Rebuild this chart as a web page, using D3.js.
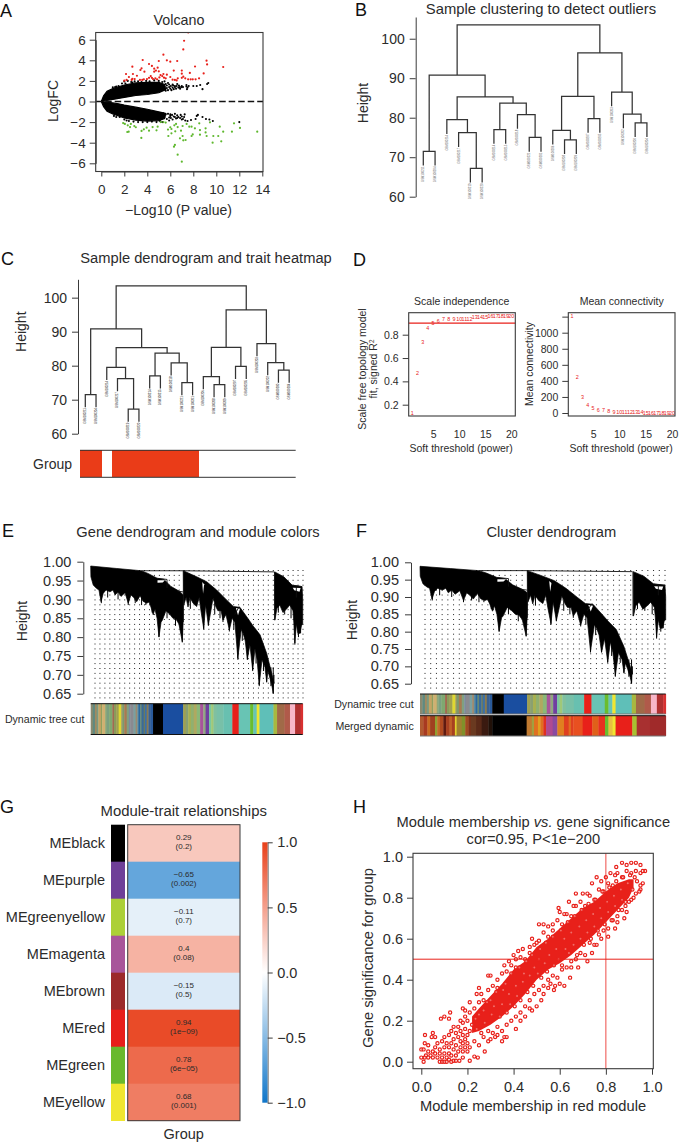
<!DOCTYPE html>
<html><head><meta charset="utf-8">
<style>html,body{margin:0;background:#fff}svg{display:block}text{font-family:"Liberation Sans",Arial,sans-serif;fill:#2b2b2b}</style>
<script src="https://cdn.jsdelivr.net/npm/d3@7/dist/d3.min.js"></script></head><body>
<script>
// ---------- A: volcano ----------
const volcanoRed=[[7.2,5.9],[7.13,5.06],[5.4,4.55],[3.6,4.03],[5,3.93],[5.7,4],[6,3.87],[6.6,3.93],[9.15,3.96],[9.2,3.6],[10.6,3.35],[8.15,3.4],[4.15,3.64],[2.7,3.38],[3.5,3.22],[3.4,3.06],[4.4,3.45],[4.6,3.19],[4.9,3.28],[4.75,3],[4.6,2.9],[5,2.93],[7,3],[6.3,3],[2.15,2.67],[2.75,2.67],[3.1,2.5],[3.75,2.9],[2.4,2.38],[7.7,2.77],[8.9,2.73],[7,2.7],[5.4,2.67],[5.7,2.6],[2,2.02],[2.2,2.09],[2.64,2.09],[2.7,2.2],[2.9,2.18],[3.36,2.09],[3.56,2.09],[3.7,2.15],[3.97,2.18],[4.15,2.3],[4.3,2.47],[4.4,2.3],[4.5,2.18],[4.7,2.25],[4.85,2.15],[5.05,2.34],[5.15,2.57],[5.3,2.47],[5.45,2.31],[5.6,2.25],[6,2.38],[6.2,2.12],[6.4,2.09],[6.65,2.25],[7,2.3],[7.13,2.41],[7.3,2.25],[7.55,2.15],[7.77,2.15],[7.95,2.15],[8.2,2.15],[8.5,2.25],[6.55,2.05],[7.56,6.7]];
const volcanoGreen=[[1.9,-2.09],[2.05,-2.18],[2.3,-2.31],[2.5,-2.48],[2.26,-2.96],[2.38,-2.93],[2.87,-2.38],[3,-2.5],[2.57,-2.18],[3.5,-2.86],[3.7,-2.7],[3.48,-3.54],[3.94,-2.54],[4.15,-2.83],[4.46,-2.48],[4.8,-2.8],[4.9,-2.44],[5.16,-2],[5.4,-2],[5.6,-2.05],[5.8,-2.73],[6.1,-2.67],[6,-2.5],[6.35,-2.31],[6.5,-2.18],[6.64,-2.48],[5.83,-3.35],[6.1,-3.09],[6.43,-2.9],[6.84,-3.58],[7.07,-3.35],[7.13,-3.77],[7.33,-3.74],[6.4,-4.22],[6.32,-4.39],[6.64,-5.16],[7,-5.84],[6.93,-2.83],[7.07,-2.38],[7.42,-2.18],[7.65,-2.44],[7.85,-3.35],[7.95,-3.2],[8.14,-2.6],[7.85,-2.44],[8.58,-2.77],[8.58,-3.22],[9.07,-2.6],[9.07,-3],[9.16,-3.35],[8.52,-2.12],[9.45,-2.02],[9.74,-3.35],[9.68,-4],[10.17,-3.35],[10.3,-2.44],[10.43,-3.87],[10.6,-2.93],[11.54,-2.12],[11.36,-2.93],[12.06,-2.57],[13.56,-2.93]];
const volcanoBlack=[[7.4,1.6],[7.5,1.35],[7.6,1.5],[8,1.5],[8.3,1.5],[8.6,1.6],[8.8,1.2],[9.2,1.7],[9.3,1.8],[2,1.95],[2.3,2],[2.6,1.9],[6.4,1.5],[6.6,1.7],[6.8,1.4],[7,1.5],[6.2,1.65],[5.8,1.8],[5.5,1.95],[1.2,1.4],[1.5,1.5],[1.8,1.75],[7.1,-1.7],[7.3,-1.85],[7.5,-1.9],[7.8,-1.8],[8.2,-1.7],[8.3,-1.4],[8.4,-1.3],[8.8,-1.5],[9.1,-1.7],[9.4,-1.75],[9.7,-1.9],[12,-2],[6,-1.4],[6.4,-1.5],[6.6,-1.6],[6.9,-1.3],[7,-1.45],[1.6,-1.5],[2.4,-1.9],[3.2,-2],[4.4,-1.95],[5.3,-2],[5.9,-1.85],[6.2,-1.75],
[5.4,1.2],[5.5,1.45],[5.6,1.05],[5.6,1.7],[5.7,1.3],[5.7,1.55],[5.8,1.1],[5.9,1.4],[5.9,1.65],[6,1.25],[6.05,1.5],[6.1,1.1],[6.2,1.35],[6.25,1.55],[6.3,1.2],[6.4,1.4],[6.5,1.25],[6.55,1.5],[6.7,1.35],[6.75,1.55],[6.85,1.25],[6.95,1.4],[7.1,1.4],[7.4,1.45],[7.45,1.2],[1,1.38],[1.3,1.45],[2.1,1.75],[2.7,1.85],[2.9,1.95],[3.2,1.95],[3.5,1.9],[3.9,2],[4.2,1.95],[4.6,2.05],[5,2],[5.3,1.9],
[5.4,-1.15],[5.5,-1.5],[5.6,-1.25],[5.7,-1.7],[5.8,-1.2],[5.9,-1.55],[6,-1.25],[6.05,-1.6],[6.15,-1.3],[6.3,-1.45],[6.4,-1.2],[6.5,-1.65],[6.6,-1.35],[6.7,-1.5],[6.85,-1.6],[7,-1.75],[7.2,-1.5],[7.25,-1.25],[1.1,-1.4],[1.3,-1.5],[2,-1.75],[2.2,-1.85],[2.8,-1.95],[3.6,-2],[4,-2],[4.8,-2],[5.1,-1.9]];
const volcanoUpper=[[0,0],[.2,.55],[.5,1],[1,1.25],[2,1.6],[3,1.8],[4,1.85],[5,1.85],[5.5,1.65],[5.6,1.15],[5,.85],[4,.68],[3,.58],[2,.4],[1.5,.3],[1,.2],[.6,.12],[0,0]];
const volcanoLower=[[0,0],[.2,-.5],[.5,-.95],[1,-1.2],[2,-1.6],[3,-1.8],[4,-1.9],[5,-1.85],[5.5,-1.65],[5.6,-1.15],[5,-1],[4,-.75],[3,-.55],[2,-.35],[1.5,-.22],[1,-.14],[.6,-.08],[0,0]];
const volcanoXTicks=[0,2,4,6,8,10,12,14], volcanoYTicks=[-6,-4,-2,0,2,4,6];

// ---------- B, C: sample tree (R hclust style merges) ----------
const sampleMerges=[[-1,-2,71.5],[-5,-6,67.2],[-4,2,76.2],[-3,3,79.5],[-7,-8,77],[-10,-11,75],[-9,6,80.8],[5,7,83.7],[4,8,85.3],[1,9,90.8],[-13,-14,74.4],[-12,11,76.8],[-15,-16,79.8],[12,13,85.4],[-19,-20,78.7],[-18,15,80.9],[-17,16,86.5],[14,17,96.4],[10,18,103.5]];
const sampleIds=["GSM100211","GSM100204","GSM100214","GSM100217","GSM100219","GSM100220","GSM100214","GSM100215","GSM100218","GSM100221","GSM100201","GSM100206","GSM100208","GSM100209","GSM100207","GSM100205","GSM100203","GSM100202","GSM100200","GSM100204"];
const heightTicks=[60,70,80,90,100];
const groupFlags=[1,1,0,1,1,1,1,1,1,1,1,0,0,0,0,0,0,0,0,0];

// ---------- D: soft threshold ----------
const powers=d3.range(1,21);
const scaleFit=[.13,.47,.74,.857,.897,.917,.93,.93,.937,.932,.932,.937,.946,.95,.953,.957,.96,.96,.96,.96];
const meanK=[1205,447,200,100,62,37,29,20,12,8,6,5,4,4,3,3,2,2,2,1];
const fitTicks=[.2,.4,.6,.8], kTicks=[0,200,400,600,800,1000,1200], powerTicks=[5,10,15,20];

// ---------- E, F: gene dendrogram silhouettes [gene position %, height] ----------
const topA=[[0,.9885],[12.3,.982],[23.9,.976],[27,.969],[31.4,.956],[34.6,.953],[37.7,.935],[41.7,.922],[43.7,.912]];
const bottomA=[[.1,.96],[1.2,.938],[2.8,.929],[3.9,.925],[4.9,.894],[5.9,.916],[7.2,.925],[9.1,.92],[10.5,.925],[11.5,.912],[12.9,.92],[14.3,.908],[16.2,.918],[17.7,.89],[19,.912],[20.3,.905],[21.7,.894],[23.3,.91],[24.7,.895],[26.4,.89],[27.5,.893],[28.4,.88],[29.5,.859],[30.3,.875],[31.3,.85],[32.2,.801],[33.2,.84],[33.8,.845],[35.5,.87],[37.4,.86],[38.8,.85],[40.2,.848],[41.6,.835],[43.2,.788],[43.6,.84]];
const topB=[[43.7,.976],[50,.96],[54.7,.947],[59.4,.925],[64.2,.898],[67.3,.881],[70.4,.879],[73.6,.854],[76.7,.829],[79.9,.806],[83,.757],[85.4,.704],[86.5,.677]];
const bottomB=[[43.9,.885],[45,.905],[45.9,.88],[46.8,.905],[48.3,.89],[50,.881],[51.2,.905],[52,.87],[53.3,.823],[54.2,.885],[55.5,.832],[56.7,.87],[57.7,.903],[59.1,.88],[60,.87],[61.5,.87],[62.4,.845],[63.8,.86],[65.4,.819],[66.7,.85],[68,.84],[69.4,.744],[71,.82],[71.9,.81],[72.9,.79],[73.9,.741],[75.1,.78],[76.4,.713],[77.5,.77],[78.5,.74],[79.5,.673],[80.8,.74],[82.2,.72],[83,.682],[83.6,.71],[84.6,.69],[85.5,.67],[86.1,.651],[86.4,.7]];
const topC=[[86.8,.973],[91.1,.96],[95,.938],[99.7,.934],[100,.9]];
const bottomC=[[86.9,.845],[87.8,.875],[89.2,.885],[90.7,.865],[92.5,.875],[93.9,.885],[95.4,.87],[95.8,.84],[96.3,.784],[97,.835],[97.7,.81],[98.7,.81],[99.4,.83],[100,.835]];
const topLinks=[[[23.9,.976],[43.7,.976]],[[43.7,.976],[86.5,.973]],[[43.7,.976],[43.7,.84]],[[86.7,.973],[86.7,.845]],[[31.4,.956],[36,.953]],[[36,.953],[36,.93]],[[41,.922],[43.5,.92]],[[70,.881],[68,.86]],[[95,.937],[99.7,.934]],[[97,.935],[97,.905]]];
const whiteSlivers=[[[31.5,.951],[35,.951],[34,.945],[31.5,.944]],[[52.6,.946],[53.5,.94],[53,.915]],[[68.5,.877],[70.4,.875],[69.5,.858]],[[95.3,.931],[99,.93],[98.5,.92],[96,.924]]];
const geneSpikes=[[5,.92,.89],[17.7,.92,.885],[26,.9,.885],[32.2,.86,.8],[43.2,.85,.786],[53.3,.9,.82],[55.5,.9,.83],[62.4,.88,.84],[65.4,.87,.815],[69.4,.82,.74],[73.9,.8,.74],[76.4,.79,.71],[79.5,.76,.67],[83,.74,.68],[86.1,.72,.65],[96.3,.88,.78],[8,.93,.905],[12.9,.93,.9],[21,.92,.89],[24,.92,.885],[29,.9,.865],[36,.89,.85],[40,.87,.83],[47,.92,.875],[58.5,.89,.86],[61,.88,.85],[67.5,.86,.82],[71.5,.83,.79],[78,.78,.73],[81.5,.75,.71],[85,.72,.67],[88.5,.9,.865],[91.5,.89,.86],[94.5,.89,.85],[98,.85,.8],[99,.85,.81]];
const geneHeightTicks=[.65,.7,.75,.8,.85,.9,.95,1];
const guideColumns=d3.range(0,43);
// colour runs: [end of run, gene position %, colour]
const dynamicRuns=[[1,"#8a8a70"],[2,"#5f8a80"],[2.8,"#a08a60"],[3.6,"#7a9a80"],[4.8,"#c4a464"],[5.4,"#90a060"],[6.8,"#d0b070"],[7.5,"#90a878"],[8.7,"#7aa080"],[10.2,"#7fa870"],[11,"#a06a50"],[12,"#8a9a5a"],[13.2,"#a0a050"],[14.4,"#e0d830"],[15,"#9a9a60"],[15.8,"#7a9a70"],[17,"#a87a50"],[18,"#80a080"],[18.6,"#7a8aa0"],[20.2,"#8a8a90"],[21.2,"#7aa0a0"],[22,"#9a8a70"],[22.6,"#5a8aa0"],[23.4,"#2a6aa0"],[24,"#6a8a70"],[25,"#3a6a9a"],[25.6,"#6a7a60"],[26.4,"#3a70a8"],[27.2,"#8a7a50"],[28.2,"#3a6090"],[29.4,"#2a5a9a"],[34.1,"#000000"],[43.6,"#1a4ea0"],[44.8,"#a0a050"],[46,"#8aa070"],[47.2,"#a8b050"],[48.6,"#90b070"],[50,"#b0a860"],[51.6,"#8ab878"],[53.1,"#a8559a"],[54.2,"#90a880"],[55.8,"#7040a0"],[56.8,"#7ac8a0"],[57.9,"#a0c878"],[59.4,"#80c0a0"],[62.6,"#78c0a8"],[66.8,"#68c0b0"],[69.8,"#e8201a"],[75.2,"#68c4b4"],[76.7,"#6abd2e"],[78.3,"#68c4b4"],[79.6,"#f0e630"],[86.2,"#5fbfb8"],[87.9,"#a8b840"],[91.4,"#a06a48"],[94,"#b05a4a"],[96.4,"#f7b6c8"],[99,"#b03030"],[100,"#d83030"]];
const mergedRuns=[[1.4,"#b05a30"],[3,"#a83a20"],[4.1,"#c86a20"],[6.1,"#a04020"],[7,"#90a030"],[8.1,"#c06a28"],[9.5,"#b04a20"],[10.6,"#601a10"],[12,"#a84020"],[13,"#c06028"],[14.2,"#a84020"],[14.9,"#e0d030"],[17,"#a08030"],[18.4,"#80902a"],[19.7,"#a04a20"],[20.6,"#803018"],[22.8,"#6a3a20"],[25.1,"#5a2a18"],[27.8,"#3a1a10"],[29.4,"#201008"],[43.4,"#000000"],[45.5,"#c07a30"],[46.4,"#a0a040"],[48,"#e07020"],[49,"#e0a020"],[50.2,"#e07020"],[51.3,"#e03020"],[54,"#b04a90"],[55.9,"#8a4aa0"],[58.6,"#e08020"],[60.5,"#e04020"],[61.4,"#e07020"],[62.4,"#e04020"],[66.2,"#e85020"],[70.1,"#e8201a"],[72.6,"#e0601a"],[75.3,"#e83020"],[76.7,"#6abd2e"],[78.4,"#e8c040"],[79.6,"#f0e630"],[86.4,"#e8201a"],[88.2,"#a8c030"],[93.6,"#a83030"],[100,"#a02a2a"]];

// ---------- G: module-trait ----------
const modules=["MEblack","MEpurple","MEgreenyellow","MEmagenta","MEbrown","MEred","MEgreen","MEyellow"];
const moduleColors=["#000000","#6f3f98","#acd037","#a8559a","#9c2a2a","#e71f1a","#69b92e","#f0e630"];
const moduleCor=[.29,-.65,-.11,.4,-.15,.94,.78,.68];
const corLabels=["0.29","\u22120.65","\u22120.11","0.4","\u22120.15","0.94","0.78","0.68"];
const pLabels=["(0.2)","(0.002)","(0.7)","(0.08)","(0.5)","(1e\u221209)","(6e\u221205)","(0.001)"];
const legendTicks=[-1,-.5,0,.5,1];

// ---------- H: membership scatter ----------
const mmUpper=[[.22,.22],[.25,.26],[.3,.32],[.35,.38],[.4,.45],[.45,.49],[.5,.56],[.55,.6],[.6,.65],[.65,.7],[.7,.75],[.75,.78],[.8,.83],[.85,.87],[.9,.89],[.92,.89]];
const mmLower=[[.22,.14],[.25,.15],[.3,.18],[.35,.22],[.4,.27],[.45,.33],[.5,.4],[.55,.45],[.6,.48],[.65,.52],[.7,.57],[.75,.62],[.8,.68],[.85,.74],[.9,.8],[.92,.85]];
const mmEdge=[[.016,.13],[0,.06],[.01,.06],[.015,.09],[.03,.08],[0,.02],[.01,0],[.015,.02],[.03,.02],[.05,.14],[.045,.12],[.06,.12],[.085,.21],[.1,.22],[.12,.21],[.125,.24],[.14,.17],[.17,.2],[.18,.26],[.19,.25],[.21,.29],[.24,.33],[.25,.36],[.26,.33],[.29,.42],[.3,.42],[.33,.4],[.36,.47],[.38,.49],[.4,.52],[.41,.5],[.42,.54],[.44,.55],[.47,.56],[.48,.6],[.5,.58],[.51,.67],[.53,.67],[.55,.66],[.57,.67],[.595,.75],[.6,.73],[.62,.72],[.64,.78],[.66,.76],[.67,.82],[.7,.82],[.72,.82],[.74,.87],[.76,.9],[.78,.88],[.8,.9],[.82,.92],[.84,.91],[.845,.95],[.87,.97],[.89,.96],[.91,.97],[.93,.97],[.95,.96],[.97,.93],[.96,.93],[.08,0],[.09,0],[.1,0],[.11,0],[.12,.01],[.13,0],[.14,.005],[.15,.005],[.165,.005],[.18,.02],[.21,.005],[.23,.025],[.245,.02],[.275,.05],[.3,.11],[.32,.12],[.35,.1],[.36,.12],[.37,.12],[.41,.16],[.43,.2],[.45,.22],[.47,.26],[.48,.25],[.5,.27],[.52,.3],[.53,.33],[.55,.36],[.56,.38],[.575,.35],[.58,.37],[.6,.38],[.62,.37],[.645,.41],[.65,.46],[.68,.46],[.72,.49],[.74,.53],[.76,.57],[.78,.6],[.81,.61],[.84,.65],[.85,.68],[.88,.7],[.885,.76],[.9,.78],[.92,.8],[.945,.83],[.96,.87],[.95,.86]];
const mmFringe=[[.23,.26],[.25,.29],[.27,.3],[.29,.35],[.31,.37],[.33,.36],[.35,.43],[.37,.44],[.39,.47],[.41,.46],[.43,.51],[.45,.5],[.47,.53],[.49,.57],[.51,.59],[.53,.63],[.55,.61],[.57,.64],[.59,.69],[.61,.67],[.63,.72],[.65,.71],[.67,.76],[.69,.78],[.71,.76],[.73,.81],[.75,.79],[.77,.84],[.79,.83],[.81,.87],[.83,.86],[.85,.92],[.87,.9],[.89,.93],[.91,.92],[.93,.93],[.95,.92],[.23,.1],[.25,.08],[.27,.12],[.29,.1],[.31,.14],[.33,.13],[.35,.15],[.37,.18],[.39,.2],[.41,.22],[.43,.24],[.45,.27],[.47,.3],[.49,.33],[.51,.35],[.53,.37],[.55,.4],[.57,.42],[.59,.41],[.61,.45],[.63,.46],[.65,.49],[.67,.5],[.69,.53],[.71,.52],[.73,.58],[.75,.57],[.77,.62],[.79,.64],[.81,.65],[.83,.69],[.85,.71],[.87,.74],[.89,.73],[.91,.79],[.93,.82],[.95,.84]];
const mmLow=[[.02,.03],[.03,.05],[.04,.03],[.05,.05],[.05,.02],[.06,.04],[.06,.07],[.07,.02],[.07,.09],[.08,.04],[.08,.06],[.09,.02],[.09,.1],[.1,.04],[.1,.07],[.1,.12],[.11,.02],[.11,.09],[.12,.04],[.12,.07],[.12,.13],[.13,.03],[.13,.09],[.13,.15],[.14,.06],[.14,.11],[.15,.03],[.15,.08],[.15,.14],[.16,.05],[.16,.12],[.16,.17],[.17,.07],[.17,.1],[.17,.15],[.18,.05],[.18,.09],[.18,.13],[.18,.19],[.19,.07],[.19,.11],[.19,.16],[.19,.22],[.2,.05],[.2,.09],[.2,.13],[.2,.2],[.21,.07],[.21,.15],[.21,.24]];
const mmBody=[[.22,.18],[.235,.21],[.24,.16],[.25,.23],[.26,.14],[.27,.25],[.275,.19],[.285,.29],[.29,.15],[.3,.3],[.305,.23],[.315,.27],[.325,.34],[.33,.17],[.34,.22],[.35,.28],[.355,.35],[.365,.38],[.37,.24],[.38,.33],[.385,.28],[.39,.43],[.405,.27],[.41,.37],[.415,.32],[.425,.46],[.43,.3],[.44,.39],[.445,.43],[.455,.49],[.46,.34],[.47,.42],[.48,.52],[.485,.37],[.49,.46],[.505,.43],[.51,.5],[.515,.55],[.52,.41],[.535,.48],[.54,.58],[.545,.44],[.555,.52],[.57,.61],[.575,.47],[.585,.55],[.595,.5],[.605,.64],[.61,.47],[.62,.6],[.625,.55],[.635,.68],[.64,.53],[.65,.63],[.66,.57],[.665,.71],[.675,.52],[.685,.66],[.69,.6],[.695,.74],[.705,.57],[.715,.69],[.72,.63],[.725,.77],[.735,.6],[.745,.72],[.75,.66],[.755,.79],[.765,.64],[.775,.75],[.78,.7],[.785,.83],[.795,.67],[.805,.78],[.81,.73],[.815,.85],[.825,.69],[.835,.81],[.84,.76],[.845,.88],[.855,.74],[.865,.84],[.87,.79],[.875,.9],[.885,.78],[.895,.87],[.905,.91],[.915,.84],[.925,.9],[.935,.88]];
const mmTicks=[0,.2,.4,.6,.8,1];

// ---------- helpers ----------
const svg=d3.select("body").append("svg").attr("width",680).attr("height",1144);
const ink="#2b2b2b", axisInk="#3a3a3a";
function label(x,y,s,size,anchor,rot,fill){
  const t=svg.append("text").attr("font-size",size).attr("text-anchor",anchor||"middle").text(s);
  if(rot)t.attr("transform",`translate(${x},${y}) rotate(${rot})`);else t.attr("x",x).attr("y",y);
  if(fill)t.style("fill",fill);
  return t;
}
function axis(gen,tx,ty,size,sw){
  const g=svg.append("g").attr("transform",`translate(${tx},${ty})`).call(gen);
  g.selectAll("text").attr("font-size",size).style("font-family",'"Liberation Sans",Arial,sans-serif').style("fill",ink);
  g.selectAll("path,line").attr("stroke",axisInk).attr("stroke-width",sw||1);
  g.attr("font-family",null);
  return g;
}
const fmtMinus=f=>(d=>f(d).replace("-","\u2212"));
function box(x0,x1,y0,y1,sw){svg.append("rect").attr("x",x0).attr("y",y0).attr("width",x1-x0).attr("height",y1-y0).attr("fill","none").attr("stroke",axisInk).attr("stroke-width",sw||1.1);}
[["A",0,17],["B",355,16],["C",1,265],["D",353,266],["E",2,537],["F",356,537],["G",0,813],["H",353,813]].forEach(d=>label(d[1],d[2],d[0],18,"start",null,"#111"));

// ---------- draw A ----------
{
 const x=d3.scaleLinear([0,14],[101.3,262.3]), y=d3.scaleLinear([-6,6],[163.3,39.7]);
 const line=d3.line().x(d=>x(d[0])).y(d=>y(d[1]));
 svg.selectAll(null).data([volcanoUpper,volcanoLower]).join("path").attr("d",line).attr("fill","#000").attr("stroke","#000").attr("stroke-width",1.2);
 svg.selectAll(null).data(volcanoBlack).join("circle").attr("cx",d=>x(d[0])).attr("cy",d=>y(d[1])).attr("r",1.05).attr("fill","#000");
 svg.append("clipPath").attr("id","vc").append("rect").attr("x",95.7).attr("y",32.5).attr("width",167.5).attr("height",139);
 svg.append("g").attr("clip-path","url(#vc)").selectAll(null).data(volcanoRed).join("circle").attr("cx",d=>x(d[0])).attr("cy",d=>y(d[1])).attr("r",1.1).attr("fill","#e8201a");
 svg.selectAll(null).data(volcanoGreen).join("circle").attr("cx",d=>x(d[0])).attr("cy",d=>y(d[1])).attr("r",1.1).attr("fill","#5fb82e");
 svg.append("line").attr("x1",95.7).attr("x2",263).attr("y1",y(0)).attr("y2",y(0)).attr("stroke","#111").attr("stroke-width",1.5).attr("stroke-dasharray","6.5 3");
 box(95.7,263,32.5,171.5);
 axis(d3.axisBottom(x).tickValues(volcanoXTicks).tickSize(5).tickSizeOuter(0).tickPadding(8).tickFormat(d3.format("d")),0,171.5,13.5);
 axis(d3.axisLeft(y).tickValues(volcanoYTicks).tickSize(6).tickSizeOuter(0).tickPadding(4).tickFormat(fmtMinus(d3.format("d"))),95.7,0,13.5);
 label(179,24.5,"Volcano",14.3);
 label(178.5,214.5,"\u2212Log10 (P value)",14);
 label(58,101,"LogFC",14,"middle",-90);
}
// ---------- draw B, C ----------
function sampleTree(o){
 const x=i=>o.x0+i*o.step, y=d3.scaleLinear([60,o.top],[o.y60,o.yTop]);
 const nodes=[];
 const pos=r=>r<0?{x:x(-r-1),h:null}:nodes[r-1];
 const paths=sampleMerges.map(m=>{
  const a=pos(m[0]),b=pos(m[1]);
  nodes.push({x:(a.x+b.x)/2,h:m[2]});
  const ya=y(a.h===null?m[2]-o.hang:a.h), yb=y(b.h===null?m[2]-o.hang:b.h);
  return `M${a.x},${ya}V${y(m[2])}H${b.x}V${yb}`;
 });
 svg.append("path").attr("d",paths.join("")).attr("fill","none").attr("stroke","#333").attr("stroke-width",o.sw);
 const leafY=[];
 sampleMerges.forEach(m=>[m[0],m[1]].forEach(r=>{if(r<0)leafY[-r-1]=m[2]-o.hang;}));
 sampleIds.forEach((s,i)=>label(x(i)+.9,y(leafY[i])+1,s,o.fs,"end",-90,o.ink));
 axis(d3.axisLeft(y).tickValues(heightTicks).tickSize(6).tickSizeOuter(0).tickPadding(5),o.ax,0,14,1);
}
sampleTree({x0:423.3,step:11.77,y60:196.7,yTop:17,top:105.5,hang:3.6,sw:1.25,fs:2.8,ink:"#666",ax:415.7});
sampleTree({x0:85.3,step:10.73,y60:433.7,yTop:279.3,top:105.4,hang:3.7,sw:1.25,fs:2.8,ink:"#222",ax:78});
label(541,14,"Sample clustering to detect outliers",14.8);
label(368,103,"Height",14,"middle",-90);
label(206,262.7,"Sample dendrogram and trait heatmap",14.7);
label(26,331.7,"Height",14,"middle",-90);
{
 const bx=d3.scaleBand().domain(d3.range(20)).range([80,295.7]);
 svg.selectAll(null).data(groupFlags).join("rect").attr("x",(d,i)=>bx(i)).attr("y",450.3).attr("width",bx.bandwidth()).attr("height",27).attr("fill",d=>d?"#ea3c18":"#fff").attr("shape-rendering","crispEdges");
 [450.3,477.3].forEach(v=>svg.append("line").attr("x1",80).attr("x2",295.7).attr("y1",v).attr("y2",v).attr("stroke","#333"));
 label(72,469,"Group",14,"end");
}
// ---------- draw D ----------
function softPanel(o){
 const x=d3.scaleLinear([1,20],o.xr), y=d3.scaleLinear(o.yd,o.yr);
 if(o.h!=null)svg.append("line").attr("x1",408.7).attr("x2",515.3).attr("y1",y(o.h)).attr("y2",y(o.h)).attr("stroke","#e8201a").attr("stroke-width",1.2);
 svg.selectAll(null).data(powers).join("text").attr("x",d=>x(d)).attr("y",(d,i)=>y(o.v[i])+1.8).attr("text-anchor","middle").attr("font-size",5.4).style("fill","#e8201a").text(d=>d);
 box(o.bx[0],o.bx[1],312.7,416);
 axis(d3.axisBottom(x).tickValues(powerTicks).tickSize(0).tickSizeOuter(0).tickPadding(15).tickFormat(d3.format("d")),0,416,10.5).select(".domain").remove();
 axis(d3.axisLeft(y).tickValues(o.t).tickSize(6).tickSizeOuter(0).tickPadding(4).tickFormat(o.f),o.bx[0],0,10.5).select(".domain").remove();
 label(o.cx,304.7,o.title,10.5);
 label(o.cx-.5,451.7,"Soft threshold (power)",10.5);
}
softPanel({xr:[412.2,511.3],yd:[.2,.8],yr:[404.7,334.7],v:scaleFit,h:.9,bx:[408.7,515.3],t:fitTicks,f:d3.format(".1f"),title:"Scale independence",cx:461.7});
softPanel({xr:[572,672],yd:[0,1000],yr:[413,332.7],v:meanK,h:null,bx:[568.3,675],t:kTicks,f:d=>d===1200?"":d3.format("d")(d),title:"Mean connectivity",cx:621.7});
label(366,369,"Scale free topology model",10.5,"middle",-90);
{const t=label(377,369,"fit, signed R",10.5,"middle",-90);t.append("tspan").attr("dy",-3).attr("font-size",6.5).text("2");}
label(532.5,364,"Mean connectivity",10.5,"middle",-90);
// ---------- draw E, F ----------
function genePanel(o){
 const x=d3.scaleLinear([0,100],o.xr), y=d3.scaleLinear([.65,1],o.yr);
 const gx=d3.scaleLinear([0,42],o.gr);
 svg.selectAll(null).data(guideColumns).join("line").attr("x1",gx).attr("x2",gx).attr("y1",o.gTop).attr("y2",o.gBot).attr("stroke","#222").attr("stroke-width",1).attr("stroke-dasharray","1 3.9");
 const ln=d3.line().x(d=>x(d[0])).y(d=>y(d[1]));
 const rings=[[topA,bottomA],[topB,bottomB],[topC,bottomC]].map(r=>r[0].concat(r[1].slice().reverse()));
 svg.selectAll(null).data(rings).join("path").attr("d",d=>ln(d)+"Z").attr("fill","#000").attr("stroke","#000").attr("stroke-width",.7);
 svg.selectAll(null).data(geneSpikes).join("line").attr("x1",d=>x(d[0])).attr("x2",d=>x(d[0])).attr("y1",d=>y(d[1])).attr("y2",d=>y(d[2])).attr("stroke","#000").attr("stroke-width",1);
 svg.selectAll(null).data(whiteSlivers).join("path").attr("d",d=>ln(d)+"Z").attr("fill","#fff");
 svg.selectAll(null).data(topLinks).join("path").attr("d",ln).attr("fill","none").attr("stroke","#111").attr("stroke-width",.9);
 axis(d3.axisLeft(y).tickValues(geneHeightTicks).tickSize(6).tickSizeOuter(0).tickPadding(6).tickFormat(d3.format(".2f")),o.ax,0,14.5,1);
 o.bars.forEach(b=>{
  let prev=0;
  b.runs.forEach(r=>{svg.append("rect").attr("x",x(prev)).attr("y",b.y0).attr("width",x(r[0])-x(prev)+.4).attr("height",b.y1-b.y0).attr("fill",r[1]);prev=r[0];});
  svg.append("line").attr("x1",o.xr[0]).attr("x2",o.xr[1]).attr("y1",b.y0).attr("y2",b.y0).attr("stroke","#111");
  svg.append("line").attr("x1",o.xr[0]).attr("x2",o.xr[1]).attr("y1",b.y1).attr("y2",b.y1).attr("stroke",o.barLine);
  label(o.xr[0]-6.3,(b.y0+b.y1)/2+3.7,b.name,10.6,"end");
 });
}
genePanel({xr:[90.7,302.7],yr:[693.7,561.7],gr:[95,303],gTop:570,gBot:700,ax:83.3,barLine:"#111",bars:[{name:"Dynamic tree cut",y0:703.7,y1:734.5,runs:dynamicRuns}]});
genePanel({xr:[420,665.7],yr:[683.7,562.3],gr:[425,665],gTop:570,gBot:692,ax:411,barLine:"#777",bars:[{name:"Dynamic tree cut",y0:694,y1:714,runs:dynamicRuns},{name:"Merged dynamic",y0:715.7,y1:736,runs:mergedRuns}]});
label(198,537.3,"Gene dendrogram and module colors",14.7);
label(551.3,537,"Cluster dendrogram",14.7);
label(27,621,"Height",14,"middle",-90);
label(357,620,"Height",14,"middle",-90);
// ---------- draw G ----------
{
 const color=d3.scaleLinear([-1,0,1],["#1076c9","#ffffff","#e8401a"]);
 const y=d3.scaleBand().domain(modules).range([824.7,1120.7]);
 svg.selectAll(null).data(modules).join("rect").attr("x",111).attr("y",d=>y(d)).attr("width",14).attr("height",y.bandwidth()+.3).attr("fill",(d,i)=>moduleColors[i]);
 svg.selectAll(null).data(modules).join("rect").attr("x",127.7).attr("y",d=>y(d)).attr("width",112.3).attr("height",y.bandwidth()+.3).attr("fill",(d,i)=>color(moduleCor[i]));
 box(127.7,240,824.7,1120.7,1);
 modules.forEach((m,i)=>{
  label(105,y(m)+y.bandwidth()/2+4.5,m,14.5,"end");
  label(183.8,y(m)+y.bandwidth()/2-2.8,corLabels[i],8);
  label(183.8,y(m)+y.bandwidth()/2+6.2,pLabels[i],8);
 });
 label(183.7,815.7,"Module-trait relationships",14.9);
 label(183.7,1139,"Group",14.5);
 const ly=d3.scaleLinear([-1,1],[1102.7,842.3]);
 const grad=svg.append("defs").append("linearGradient").attr("id","lg").attr("x1",0).attr("x2",0).attr("y1",1).attr("y2",0);
 legendTicks.forEach(v=>grad.append("stop").attr("offset",(v+1)/2).attr("stop-color",color(v)));
 svg.append("rect").attr("x",262.3).attr("y",842.3).attr("width",5.4).attr("height",260.4).attr("fill","url(#lg)");
 axis(d3.axisRight(ly).tickValues(legendTicks).tickSize(5).tickSizeOuter(0).tickPadding(4.5).tickFormat(fmtMinus(d3.format(".1f"))),267.7,0,14.5).select(".domain").attr("stroke","#777");
}
// ---------- draw H ----------
{
 const x=d3.scaleLinear([0,1],[421.3,652]), y=d3.scaleLinear([0,1],[1061.7,856.7]);
 const red="#e8201a";
 const poly=mmUpper.concat(mmLower.slice().reverse());
 svg.append("path").attr("d",d3.line().x(d=>x(d[0])).y(d=>y(d[1])).curve(d3.curveLinearClosed)(poly)).attr("fill",red);
 svg.selectAll(null).data(mmLow.concat(mmFringe,mmBody,mmEdge)).join("circle").attr("cx",d=>x(d[0])).attr("cy",d=>y(d[1])).attr("r",1.6).attr("fill","#fff").attr("fill-opacity",.35).attr("stroke",red).attr("stroke-width",1.2);
 svg.append("line").attr("x1",413).attr("x2",653.3).attr("y1",y(.5)).attr("y2",y(.5)).attr("stroke",red).attr("stroke-width",1);
 svg.append("line").attr("x1",x(.8)).attr("x2",x(.8)).attr("y1",853.3).attr("y2",1068.7).attr("stroke",red).attr("stroke-width",1).attr("stroke-opacity",.8);
 box(413,653.3,853.3,1068.7);
 axis(d3.axisBottom(x).tickValues(mmTicks).tickSize(6).tickSizeOuter(0).tickPadding(7).tickFormat(d3.format(".1f")),0,1068.7,14.5).select(".domain").remove();
 axis(d3.axisLeft(y).tickValues(mmTicks).tickSize(6).tickSizeOuter(0).tickPadding(4).tickFormat(d3.format(".1f")),413,0,14.5).select(".domain").remove();
 const t=label(533.3,827,"",14.7); t.append("tspan").text("Module membership "); t.append("tspan").attr("font-style","italic").text("vs."); t.append("tspan").text(" gene significance");
 label(533.3,843.5,"cor=0.95, P<1e\u2212200",14.7);
 label(533,1111,"Module membership in red module",14.7);
 label(373,958,"Gene significance for group",14.7,"middle",-90);
}
</script></body></html>
